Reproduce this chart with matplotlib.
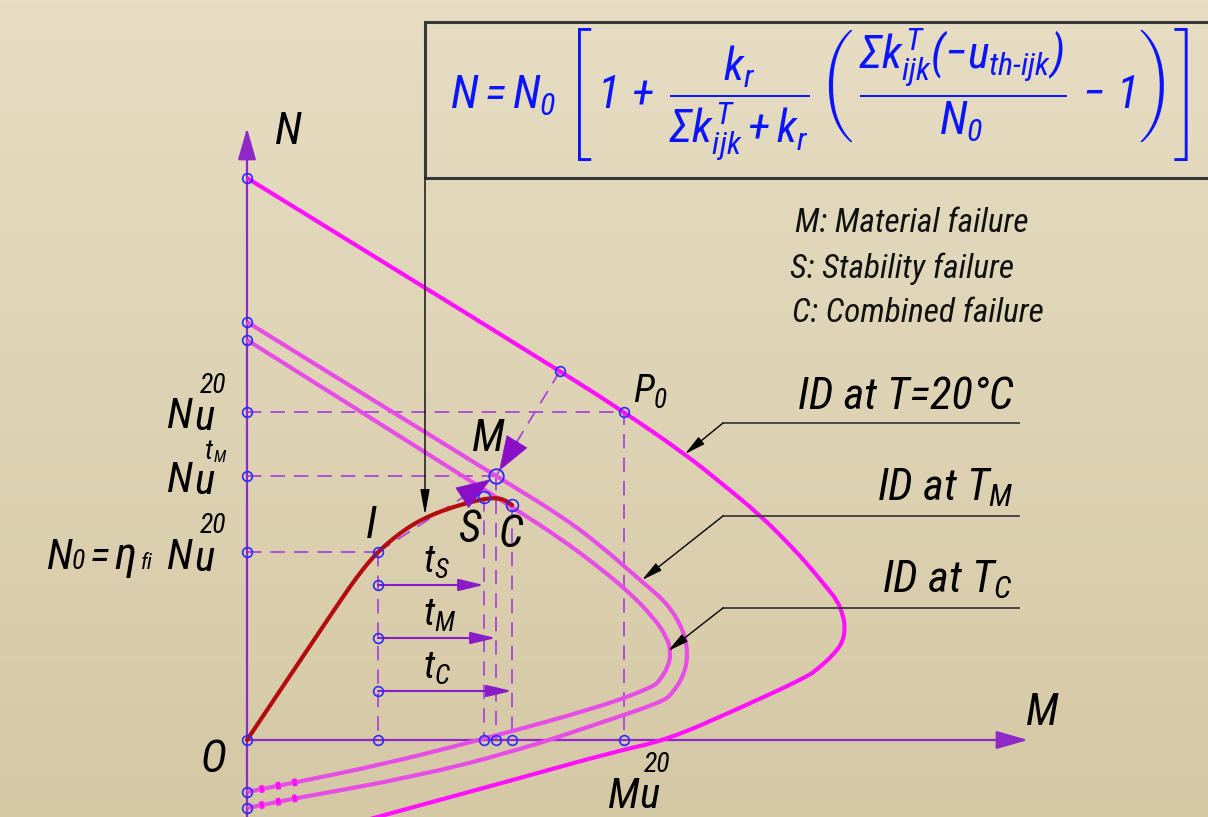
import numpy as np
import matplotlib
matplotlib.use('Agg')
import matplotlib.pyplot as plt
from matplotlib.patches import Rectangle, PathPatch
from matplotlib.path import Path
from matplotlib.colors import LinearSegmentedColormap
from matplotlib.font_manager import fontManager


def _has(name):
    return any(f.name == name and f.style in ('italic', 'oblique') for f in fontManager.ttflist)


COND = None
for _nm in ['Liberation Sans Narrow', 'Arial Narrow', 'Roboto Condensed',
            'Open Sans Condensed', 'Noto Sans Condensed']:
    if _has(_nm):
        COND = _nm
        break
if COND is None:
    for _f in fontManager.ttflist:
        if ('narrow' in _f.name.lower() or 'condensed' in _f.name.lower()) and _f.style != 'normal':
            COND = _f.name
            break
FONT = COND or 'Liberation Sans'
WS = 1.0 if COND else 0.85   # width compensation when no condensed face exists

plt.rcParams['font.family'] = [FONT, 'DejaVu Sans']
plt.rcParams['mathtext.fontset'] = 'custom'
plt.rcParams['mathtext.it'] = FONT + ':italic'
plt.rcParams['mathtext.rm'] = FONT + ':italic'
plt.rcParams['mathtext.sf'] = FONT + ':italic'
plt.rcParams['mathtext.bf'] = FONT + ':italic:bold'

# ---------------- data (M, N in drawing units) ----------------
id20_M = [0, 313, 377, 438, 473, 513, 543, 563, 580, 590, 596, 598, 596, 586, 573, 560, 493, 420, 366, 266, 130, 113]
id20_N = [562, 369, 328, 286, 258, 225, 195, 173, 152, 140, 125, 113, 98, 85, 73, 63, 32, 0, -12, -40, -77, -82]

idTM_M = [0, 249, 313, 353, 393, 420, 435, 441, 438, 426, 415, 353, 266, 166, 50, 0]
idTM_N = [418, 264, 225, 195, 160, 137, 113, 90, 67, 47, 38, 17, -12, -37, -58, -68]

idTC_M = [0, 265, 313, 353, 383, 406, 420, 424, 421, 413, 406, 353, 233, 133, 50, 0]
idTC_N = [400, 233, 202, 172, 147, 123, 103, 87, 73, 60, 53, 33, 0, -25, -42, -52]

path_M = [0, 95, 110, 121, 131, 141, 152, 165, 180, 196, 213, 228, 240, 250, 258, 265]
path_N = [0, 142, 163, 177, 188, 197, 206, 215, 223, 229.5, 235, 239, 241.5, 242, 240, 235]

point_names = ['I', 'S', 'M', 'C', 'P0', 'Q']
point_M = [131, 237, 249, 265, 377, 313]
point_N = [188, 243, 264, 235, 328, 369]

N_axis_marks = [562, 418, 400, 328, 264, 188, -52, -68]
time_names = ['S', 'M', 'C']
time_levels = [155, 102, 49]
time_ends = [237, 249, 265]

legend_lines = ['M: Material failure', 'S: Stability failure', 'C: Combined failure']
id_labels = ['ID at T=20°C', r'ID at $T_M$', r'ID at $T_C$']
id_label_N = [331, 240, 148]
id_leader_N = [317, 224, 132]
id_targets_M = [438, 395, 421]
id_targets_N = [286, 160, 89]

# ---------------- figure ----------------
fig = plt.figure(figsize=(12.08, 8.17), dpi=100)
ax = fig.add_axes([0, 0, 1, 1])
X0, X1, Y0, Y1 = -247, 961, -77, 740
ax.set_xlim(X0, X1)
ax.set_ylim(Y0, Y1)
ax.axis('off')

bg = LinearSegmentedColormap.from_list('bg', ['#e6ddc3', '#d5c8a5'])
ax.imshow(np.linspace(0, 1, 256).reshape(-1, 1), extent=(X0, X1, Y0, Y1),
          cmap=bg, aspect='auto', origin='upper', zorder=0)

AXC = '#9028c8'
DASHC = '#a848d8'
BLUE = '#2a2aff'
MAG = '#ff10ff'
MAG2 = '#e64ce6'
RED = '#b40c0c'

P = dict(zip(point_names, zip(point_M, point_N)))


def smooth_curve(xs, ys, **kw):
    """Quadratic-Bezier polyline smoothing drawn by matplotlib's Path."""
    pts = list(zip(xs, ys))
    verts = [pts[0]]
    codes = [Path.MOVETO]
    if len(pts) > 2:
        verts.append(((pts[0][0] + pts[1][0]) / 2, (pts[0][1] + pts[1][1]) / 2))
        codes.append(Path.LINETO)
        for i in range(1, len(pts) - 1):
            mid = ((pts[i][0] + pts[i + 1][0]) / 2, (pts[i][1] + pts[i + 1][1]) / 2)
            verts += [pts[i], mid]
            codes += [Path.CURVE3, Path.CURVE3]
    verts.append(pts[-1])
    codes.append(Path.LINETO)
    ax.add_patch(PathPatch(Path(verts, codes), fill=False, **kw))


# axes with arrows
ax.annotate('', xy=(0, 612), xytext=(0, Y0 - 5),
            arrowprops=dict(arrowstyle='-|>,head_length=0.7,head_width=0.2', color=AXC,
                            lw=1.6, mutation_scale=28, shrinkA=0, shrinkB=0), zorder=3)
ax.annotate('', xy=(781, 0), xytext=(0, 0),
            arrowprops=dict(arrowstyle='-|>,head_length=0.7,head_width=0.2', color=AXC,
                            lw=1.6, mutation_scale=28, shrinkA=0, shrinkB=0), zorder=3)

# dashed construction lines
dkw = dict(color=DASHC, lw=1.3, dashes=(8, 5), zorder=2)
ax.plot([0, P['P0'][0], P['P0'][0]], [P['P0'][1], P['P0'][1], 0], **dkw)
ax.plot([0, P['M'][0]], [P['M'][1], P['M'][1]], **dkw)
ax.plot([0, P['I'][0]], [P['I'][1], P['I'][1]], **dkw)
for nm in ['I', 'S', 'M', 'C']:
    ax.plot([P[nm][0], P[nm][0]], [P[nm][1], 0], **dkw)
ax.plot([P['Q'][0], P['M'][0]], [P['Q'][1], P['M'][1]], **dkw)
ax.plot([P['I'][0], P['M'][0]], [P['I'][1], P['M'][1]], **dkw)

# interaction diagrams
smooth_curve(idTM_M, idTM_N, ec=MAG2, lw=3, joinstyle='round', zorder=4)
smooth_curve(idTC_M, idTC_N, ec=MAG2, lw=3, joinstyle='round', zorder=4)
ax.plot(idTM_M[-2:], idTM_N[-2:], color=MAG, lw=5.5, dashes=(0.6, 1.6), zorder=4)
ax.plot(idTC_M[-2:], idTC_N[-2:], color=MAG, lw=5.5, dashes=(0.6, 1.6), zorder=4)
smooth_curve(id20_M, id20_N, ec=MAG, lw=3, joinstyle='round', zorder=4)

# loading path
smooth_curve(path_M, path_N, ec=RED, lw=3, capstyle='round', zorder=5)


def head_to(target, frm, back=6, length=24, hl=0.85, hw=0.3, color='#8a10c8'):
    t = np.array(target, float)
    f = np.array(frm, float)
    u = (t - f) / np.hypot(*(t - f))
    tip = t - back * u
    tail = tip - length * u
    ax.annotate('', xy=tuple(tip), xytext=tuple(tail),
                arrowprops=dict(arrowstyle=f'-|>,head_length={hl},head_width={hw}',
                                color=color, lw=0.5, mutation_scale=28,
                                shrinkA=0, shrinkB=0), zorder=6)


head_to(P['M'], P['Q'])
head_to(P['M'], P['I'])

ckw = dict(mfc='none', mec=BLUE, mew=1.2, zorder=7)
# time arrows
for lev, end in zip(time_levels, time_ends):
    ax.annotate('', xy=(end, lev), xytext=(P['I'][0], lev),
                arrowprops=dict(arrowstyle='-|>,head_length=0.55,head_width=0.13',
                                color='#8a1cc8', lw=1.5, mutation_scale=28,
                                shrinkA=0, shrinkB=0), zorder=5)
    ax.plot(P['I'][0], lev, 'o', ms=7, **ckw)
ax.plot(P['I'][0], 0, 'o', ms=7, **ckw)

# circle markers
ax.plot([0] * len(N_axis_marks), N_axis_marks, 'o', ms=7, **ckw)
ax.plot([0], [0], 'o', ms=7, **ckw)
for nm in ['S', 'M', 'C', 'P0']:
    ax.plot(P[nm][0], 0, 'o', ms=7, **ckw)
for nm in ['I', 'Q', 'P0']:
    ax.plot(*P[nm], 'o', ms=7, **ckw)
ax.plot(*P['S'], 'o', ms=8.5, **ckw)
ax.plot(*P['C'], 'o', ms=8.5, **ckw)
ax.plot(*P['M'], 'o', ms=10.5, mfc='none', mec=BLUE, mew=1.3, zorder=7)

# formula box and its leader
ax.add_patch(Rectangle((178, 562), 900, 156, fill=False, ec='#383838', lw=2.2, zorder=6))
ax.annotate('', xy=(178, 225), xytext=(178, 562),
            arrowprops=dict(arrowstyle='-|>,head_length=0.55,head_width=0.1', color='black',
                            lw=1.0, mutation_scale=28, shrinkA=0, shrinkB=0), zorder=6)
formula = (r'$N = N_0\;\left[\,1\,+\;\dfrac{k_r}{\Sigma k^T_{ijk} + k_r}\,'
           r'\left(\,\dfrac{\Sigma k^T_{ijk}(-u_{th\text{-}ijk})}{N_0}\,-\,1\right)\right]$')
ax.text(573, 645, formula, color='#0a14ff', fontsize=(33 if COND else 30),
        ha='center', va='center', zorder=8)

# ID leaders and labels
for lab, yl, yd, tm, tn in zip(id_labels, id_label_N, id_leader_N, id_targets_M, id_targets_N):
    ax.plot([772, 476], [yd, yd], color='#3c3c3c', lw=1.3, zorder=6)
    ax.annotate('', xy=(tm, tn), xytext=(476, yd),
                arrowprops=dict(arrowstyle='-|>,head_length=0.45,head_width=0.1', color='black',
                                lw=1.0, mutation_scale=28, shrinkA=0, shrinkB=0), zorder=6)
    ax.text(766, yl, lab, fontsize=32 * WS, style='italic', ha='right', va='baseline',
            color='black', zorder=8)

# legend text
for txt, xx, yy in zip(legend_lines, [548, 543, 545], [508, 462, 418]):
    ax.text(xx, yy, txt, fontsize=24 * WS, style='italic', ha='left', va='baseline',
            color='#111111', zorder=8)

tk = dict(color='black', va='baseline', zorder=8, style='italic')
ax.text(41, 596, 'N', fontsize=32, ha='center', **tk)
ax.text(795, 15, 'M', fontsize=32, ha='center', **tk)
ax.text(-33, -32, 'O', fontsize=32, ha='center', **tk)
ax.text(124, 202, 'I', fontsize=32, ha='center', **tk)
ax.text(222, 198, 'S', fontsize=32, ha='center', **tk)
ax.text(264, 193, 'C', fontsize=32, ha='center', **tk)
ax.text(241, 289, 'M', fontsize=32, ha='center', **tk)
ax.text(386, 337, r'$P_0$', fontsize=28, ha='left', **tk)
for nm, lev in zip(time_names, time_levels):
    ax.text(176, lev + 12, r'$t_{%s}$' % nm, fontsize=28, ha='left', **tk)


def pieces(items):
    for s, x, y, size in items:
        ax.text(x, y, s, fontsize=size, ha='left', **tk)


BIG = 31 if COND else 29
pieces([('N', -80, 312, BIG), ('u', -53, 310, BIG), ('20', -47, 347, 20)])
pieces([('N', -80, 248, BIG), ('u', -53, 246, BIG), ('t', -42, 281, 20), ('M', -33, 278, 12)])
pieces([('N', -200, 171, BIG), ('0', -175, 171, 20), ('=', -157, 171, BIG),
        ('η', -133, 171, BIG + 2), ('fi', -106, 171, 16),
        ('N', -80, 171, BIG), ('u', -53, 169, BIG), ('20', -47, 207, 20)])
pieces([('M', 361, -68, BIG), ('u', 392, -68, BIG), ('20', 397, -32, 20)])

fig.savefig('out.png', dpi=100)
